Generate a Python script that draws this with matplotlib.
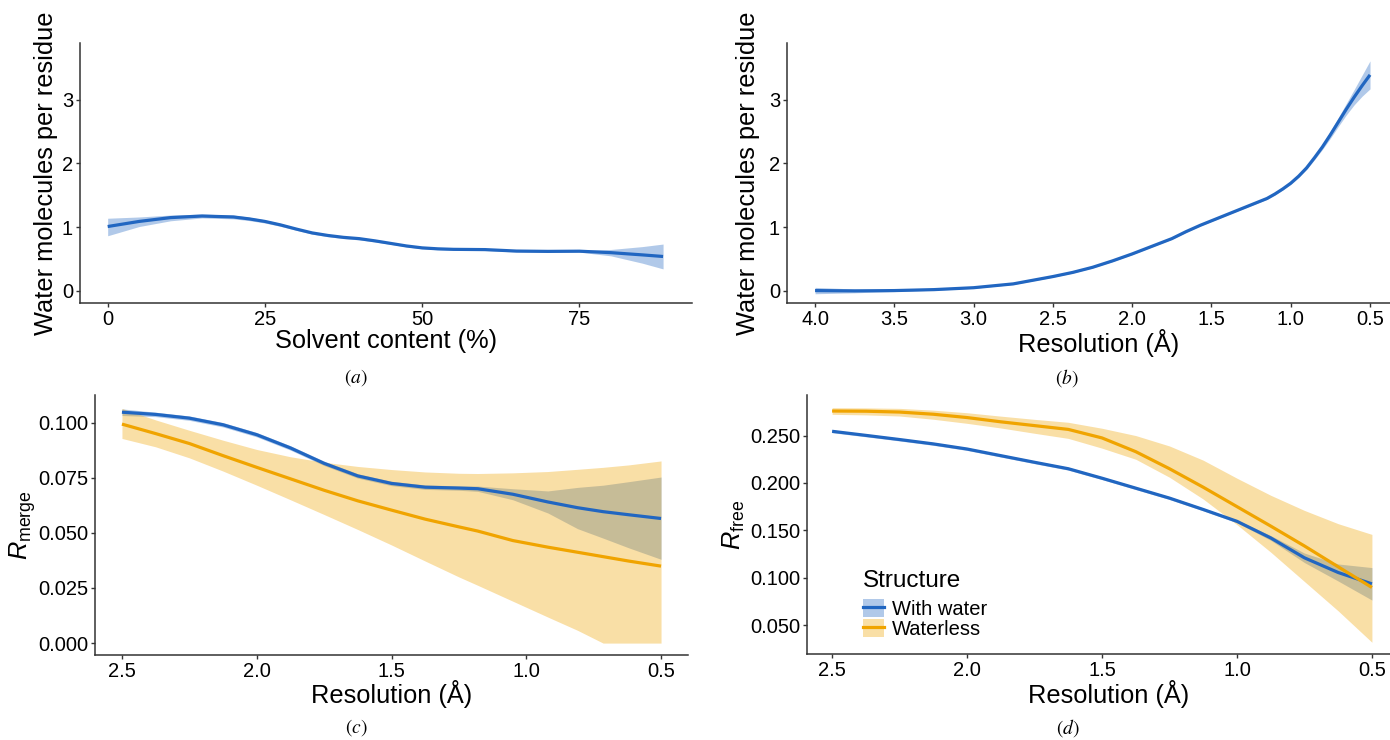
import matplotlib
matplotlib.use("Agg")
import matplotlib.pyplot as plt
from matplotlib.patches import Patch
from matplotlib.lines import Line2D

plt.rcParams['font.family'] = ['Liberation Sans', 'DejaVu Sans']
plt.rcParams['mathtext.fontset'] = 'custom'
plt.rcParams['mathtext.rm'] = 'Liberation Sans'
plt.rcParams['mathtext.it'] = 'Liberation Sans:italic'

BLUE = '#2166c1'
ORANGE = '#f0a400'
BAND_ALPHA = 0.35
groups = ['With water', 'Waterless']

# (a) water molecules per residue vs solvent content
solvent = [0, 5, 10, 15, 20, 22.5, 25, 27.5, 30, 32.5, 35, 37.5, 40, 42.5, 45, 47.5, 50,
           52.5, 55, 60, 65, 70, 75, 80, 85, 88.3]
a_fit = [1.01, 1.09, 1.15, 1.175, 1.16, 1.13, 1.09, 1.035, 0.97, 0.91, 0.87, 0.84, 0.82,
         0.785, 0.745, 0.705, 0.675, 0.66, 0.652, 0.648, 0.625, 0.62, 0.623, 0.60, 0.565, 0.54]
a_lo = [0.865, 1.01, 1.10, 1.145, 1.13, 1.103, 1.065, 1.012, 0.95, 0.89, 0.85, 0.82, 0.80,
        0.768, 0.73, 0.69, 0.66, 0.645, 0.637, 0.633, 0.61, 0.605, 0.608, 0.55, 0.435, 0.345]
a_hi = [1.14, 1.16, 1.19, 1.205, 1.19, 1.157, 1.115, 1.058, 0.99, 0.93, 0.89, 0.86, 0.84,
        0.802, 0.76, 0.72, 0.69, 0.675, 0.667, 0.663, 0.64, 0.635, 0.638, 0.65, 0.695, 0.735]

# (b) water molecules per residue vs resolution
res_b = [4.0, 3.75, 3.5, 3.25, 3.0, 2.75, 2.5, 2.375, 2.25, 2.125, 2.0, 1.875, 1.75, 1.66,
         1.57, 1.465, 1.36, 1.255, 1.15, 1.1, 1.05, 1.0, 0.95, 0.9, 0.85, 0.8, 0.75, 0.7,
         0.65, 0.6, 0.55, 0.5]
b_fit = [0.005, 0.0, 0.005, 0.02, 0.05, 0.11, 0.225, 0.29, 0.37, 0.47, 0.58, 0.70, 0.82,
         0.93, 1.03, 1.135, 1.24, 1.345, 1.45, 1.52, 1.60, 1.69, 1.80, 1.93, 2.09, 2.26,
         2.45, 2.65, 2.85, 3.04, 3.22, 3.39]
b_lo = [-0.045, -0.03, -0.01, 0.01, 0.04, 0.10, 0.215, 0.28, 0.36, 0.46, 0.57, 0.69, 0.81,
        0.92, 1.02, 1.125, 1.23, 1.333, 1.435, 1.505, 1.585, 1.67, 1.78, 1.905, 2.06, 2.22,
        2.395, 2.58, 2.76, 2.92, 3.055, 3.17]
b_hi = [0.055, 0.03, 0.02, 0.03, 0.06, 0.12, 0.235, 0.30, 0.38, 0.48, 0.59, 0.71, 0.83,
        0.94, 1.04, 1.145, 1.25, 1.357, 1.465, 1.535, 1.615, 1.71, 1.82, 1.955, 2.12, 2.30,
        2.505, 2.72, 2.94, 3.16, 3.385, 3.61]

# (c) Rmerge vs resolution
res_c = [2.5, 2.375, 2.25, 2.125, 2.0, 1.875, 1.75, 1.625, 1.5, 1.375, 1.25, 1.18, 1.05,
         0.92, 0.81, 0.715, 0.62, 0.5]
c_water_fit = [0.1047, 0.1037, 0.1020, 0.0990, 0.0945, 0.0885, 0.0815, 0.0758, 0.0724,
               0.0707, 0.0703, 0.0700, 0.0675, 0.0640, 0.0614, 0.0596, 0.0582, 0.0565]
c_water_lo = [0.1032, 0.1027, 0.1010, 0.0980, 0.0935, 0.0875, 0.0805, 0.0748, 0.0714,
              0.0697, 0.0693, 0.0688, 0.0650, 0.0590, 0.0519, 0.0476, 0.0432, 0.0380]
c_water_hi = [0.1062, 0.1047, 0.1030, 0.1000, 0.0955, 0.0895, 0.0825, 0.0768, 0.0734,
              0.0717, 0.0713, 0.0712, 0.0700, 0.0690, 0.0706, 0.0716, 0.0732, 0.0753]
c_dry_fit = [0.0993, 0.0950, 0.0905, 0.0850, 0.0797, 0.0745, 0.0693, 0.0645, 0.0603,
             0.0562, 0.0527, 0.0508, 0.0465, 0.0435, 0.0412, 0.0392, 0.0372, 0.0349]
c_dry_lo = [0.0928, 0.0890, 0.0840, 0.0780, 0.0716, 0.0650, 0.0583, 0.0515, 0.0445,
            0.0372, 0.0300, 0.0262, 0.0190, 0.0118, 0.0058, 0.0, 0.0, 0.0]
c_dry_hi = [0.1064, 0.1012, 0.0965, 0.0920, 0.0878, 0.0845, 0.0820, 0.0801, 0.0787,
            0.0776, 0.0770, 0.0769, 0.0772, 0.0778, 0.0788, 0.0797, 0.0808, 0.0826]

# (d) Rfree vs resolution
res_d = [2.5, 2.375, 2.25, 2.125, 2.0, 1.875, 1.75, 1.625, 1.5, 1.375, 1.25, 1.125, 1.0,
         0.875, 0.75, 0.625, 0.5]
d_water_fit = [0.2545, 0.2502, 0.2458, 0.2412, 0.2358, 0.2288, 0.2218, 0.2150, 0.2050,
               0.1945, 0.1840, 0.1720, 0.1595, 0.1420, 0.1210, 0.1055, 0.0935]
d_water_lo = [0.2530, 0.2487, 0.2443, 0.2397, 0.2343, 0.2273, 0.2203, 0.2135, 0.2035,
              0.1930, 0.1825, 0.1705, 0.1580, 0.1395, 0.1160, 0.0965, 0.0764]
d_water_hi = [0.2560, 0.2517, 0.2473, 0.2427, 0.2373, 0.2303, 0.2233, 0.2165, 0.2065,
              0.1960, 0.1855, 0.1735, 0.1610, 0.1445, 0.1260, 0.1145, 0.1107]
d_dry_fit = [0.2759, 0.2757, 0.2748, 0.2725, 0.2690, 0.2645, 0.2605, 0.2565, 0.2475,
             0.2330, 0.2150, 0.1955, 0.1750, 0.1545, 0.1335, 0.1115, 0.0897]
d_dry_lo = [0.2724, 0.2718, 0.2706, 0.2672, 0.2629, 0.2580, 0.2524, 0.2470, 0.2367,
            0.2250, 0.2060, 0.1830, 0.1560, 0.1270, 0.0960, 0.0650, 0.0319]
d_dry_hi = [0.2794, 0.2792, 0.2787, 0.2768, 0.2741, 0.2705, 0.2671, 0.2640, 0.2577,
            0.2500, 0.2390, 0.2240, 0.2050, 0.1870, 0.1710, 0.1570, 0.1457]

res_ticks = [2.5, 2.0, 1.5, 1.0, 0.5]

W, H = 1390, 740
fig = plt.figure(figsize=(W / 100, H / 100), dpi=100)

TICK_FS = 14.5
TITLE_FS = 18.3


def panel(left, top, right, bottom):
    # pixel box -> figure fraction
    return fig.add_axes([left / W, 1 - bottom / H, (right - left) / W, (bottom - top) / H])


def style(ax):
    for s in ('top', 'right'):
        ax.spines[s].set_visible(False)
    for s in ('left', 'bottom'):
        ax.spines[s].set_color('#333333')
        ax.spines[s].set_linewidth(1.1)
    ax.tick_params(length=3, width=1.0, color='#333333', labelsize=TICK_FS,
                   labelcolor='black', pad=2)


def smooth(ax, x, lo, fit, hi, color):
    ax.fill_between(x, lo, hi, color=color, alpha=BAND_ALPHA, linewidth=0)
    ax.plot(x, fit, color=color, lw=2.3, solid_capstyle='butt', solid_joinstyle='round')


ax_a = panel(80, 43, 692, 303)
ax_b = panel(787, 43, 1390, 303)
ax_c = panel(95, 395, 688, 655)
ax_d = panel(807, 395, 1390, 654)

smooth(ax_a, solvent, a_lo, a_fit, a_hi, BLUE)
ax_a.set_xlim(-4.4, 92.9)
ax_a.set_ylim(-0.19, 3.89)
ax_a.set_xticks([0, 25, 50, 75])
ax_a.set_yticks([0, 1, 2, 3])
ax_a.set_xlabel('Solvent content (%)', fontsize=TITLE_FS)
ax_a.set_ylabel('Water molecules per residue', fontsize=TITLE_FS)

smooth(ax_b, res_b, b_lo, b_fit, b_hi, BLUE)
ax_b.set_xlim(4.177, 0.374)
ax_b.set_ylim(-0.19, 3.89)
b_xt = [4.0, 3.5, 3.0, 2.5, 2.0, 1.5, 1.0, 0.5]
ax_b.set_xticks(b_xt)
ax_b.set_xticklabels([f'{v:.1f}' for v in b_xt])
ax_b.set_yticks([0, 1, 2, 3])
ax_b.set_xlabel('Resolution (Å)', fontsize=TITLE_FS)
ax_b.set_ylabel('Water molecules per residue', fontsize=TITLE_FS)

smooth(ax_c, res_c, c_water_lo, c_water_fit, c_water_hi, BLUE)
smooth(ax_c, res_c, c_dry_lo, c_dry_fit, c_dry_hi, ORANGE)
ax_c.set_xlim(2.6, 0.4)
ax_c.set_ylim(-0.0054, 0.1125)
ax_c.set_xticks(res_ticks)
ax_c.set_xticklabels([f'{v:.1f}' for v in res_ticks])
c_yt = [0.0, 0.025, 0.05, 0.075, 0.1]
ax_c.set_yticks(c_yt)
ax_c.set_yticklabels([f'{v:.3f}' for v in c_yt])
ax_c.set_xlabel('Resolution (Å)', fontsize=TITLE_FS)
ax_c.set_ylabel(r'$R_{\mathrm{merge}}$', fontsize=TITLE_FS)

smooth(ax_d, res_d, d_water_lo, d_water_fit, d_water_hi, BLUE)
smooth(ax_d, res_d, d_dry_lo, d_dry_fit, d_dry_hi, ORANGE)
ax_d.set_xlim(2.593, 0.433)
ax_d.set_ylim(0.0195, 0.2928)
ax_d.set_xticks(res_ticks)
ax_d.set_xticklabels([f'{v:.1f}' for v in res_ticks])
d_yt = [0.05, 0.1, 0.15, 0.2, 0.25]
ax_d.set_yticks(d_yt)
ax_d.set_yticklabels([f'{v:.3f}' for v in d_yt])
ax_d.set_xlabel('Resolution (Å)', fontsize=TITLE_FS)
ax_d.set_ylabel(r'$R_{\mathrm{free}}$', fontsize=TITLE_FS)

for ax in (ax_a, ax_b, ax_c, ax_d):
    style(ax)

# label placement (axes fractions)
ax_a.xaxis.set_label_coords(0.5, -0.1)
ax_b.xaxis.set_label_coords(0.517, -0.1)
ax_c.xaxis.set_label_coords(0.5, -0.097)
ax_d.xaxis.set_label_coords(0.517, -0.1)
ax_a.yaxis.set_label_coords(-0.036, 0.5)
ax_b.yaxis.set_label_coords(-0.045, 0.5)
ax_c.yaxis.set_label_coords(-0.096, 0.5)
ax_d.yaxis.set_label_coords(-0.103, 0.5)

# legend: keys are band + line, title drawn separately so it can sit a bit higher
handles = [(Patch(facecolor=c, alpha=BAND_ALPHA, lw=0), Line2D([], [], color=c, lw=2.3))
           for c in (BLUE, ORANGE)]
ax_d.legend(handles, groups, loc='lower left', bbox_to_anchor=(0.096, 0.058),
            frameon=False, fontsize=TICK_FS, handlelength=1.05, handleheight=1.05,
            labelspacing=0, handletextpad=0.4, borderpad=0, borderaxespad=0)
ax_d.text(0.096, 0.259, 'Structure', transform=ax_d.transAxes, fontsize=17.5,
          ha='left', va='baseline')

for lbl, xp, yp in [('a', 356, 378), ('b', 1067, 378), ('c', 356, 728), ('d', 1068, 728)]:
    fig.text(xp / W, 1 - yp / H, f'$({lbl})$', math_fontfamily='stix', fontsize=14,
             ha='center', va='center')

fig.savefig('out.png', dpi=100)
